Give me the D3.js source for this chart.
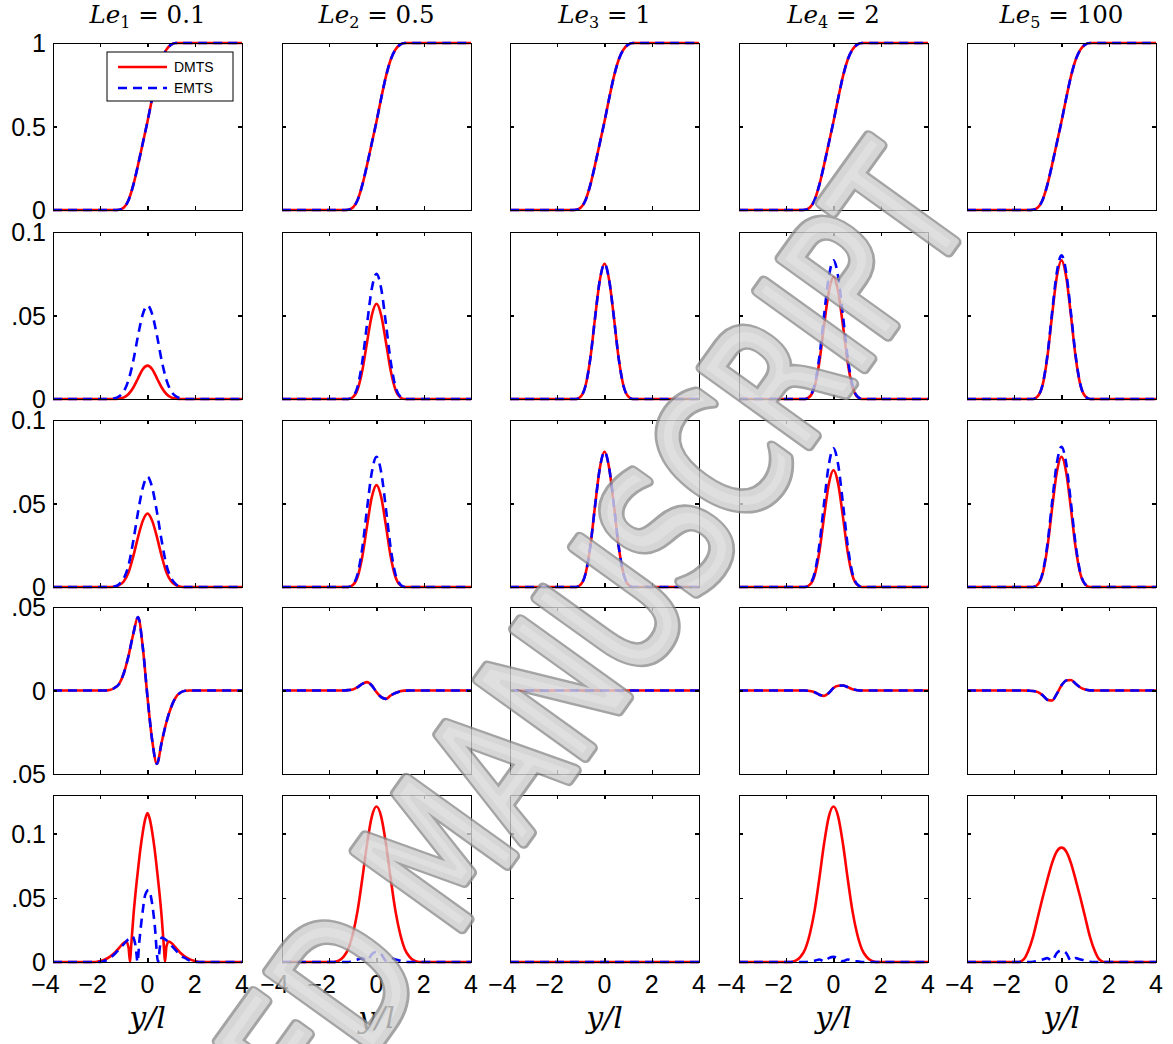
<!DOCTYPE html>
<html lang="en">
<head>
<meta charset="utf-8">
<title>DMTS vs EMTS profiles</title>
<script src="https://d3js.org/d3.v7.min.js"></script>
<style>
  body { margin: 0; background: #fff; }
  svg { display: block; }
  .tlab { font-family: "Liberation Sans", Arial, sans-serif; font-size: 25px; fill: #000; }
  .ttl { font-family: "DejaVu Serif", serif; font-size: 24.5px; fill: #000; }
  .xlab { font-family: "DejaVu Serif", serif; font-style: italic; font-size: 30px; fill: #000; }
  .leg { font-family: "Liberation Sans", Arial, sans-serif; font-size: 14px; fill: #000; }
  .axis path, .axis line { stroke: #000; stroke-width: 1.1; shape-rendering: crispEdges; }
  .dmts { fill: none; stroke: #ff0000; stroke-width: 2.6; }
  .emts { fill: none; stroke: #0000ff; stroke-width: 2.6; stroke-dasharray: 9,6; }
  .wm { font-family: "DejaVu Sans", sans-serif; font-size: 180px; stroke-linejoin: round; stroke-linecap: round; }
</style>
</head>
<body>
<div id="chart"></div>
<script>
// sample positions y/l
var yl = [-4, -3, -2, -1.8, -1.6, -1.4, -1.2, -1, -0.8, -0.6, -0.4, -0.2, 0, 0.2, 0.4, 0.6, 0.8, 1, 1.2, 1.4, 1.6, 1.8, 2, 3, 4];

var titles = [["1", "0.1"], ["2", "0.5"], ["3", "1"], ["4", "2"], ["5", "100"]];
var xTicks = [-4, -2, 0, 2, 4];
var xTickLabels = ["\u22124", "\u22122", "0", "2", "4"];

var rowDomains = [[0, 1], [0, 0.1], [0, 0.1], [-0.05, 0.05], [0, 0.13]];
var rowTicks = [[0, 0.5, 1], [0, 0.05, 0.1], [0, 0.05, 0.1], [-0.05, 0, 0.05], [0, 0.05, 0.1]];
var rowTickLabels = [["0", "0.5", "1"], ["0", "0.05", "0.1"], ["0", "0.05", "0.1"], ["\u22120.05", "0", "0.05"], ["0", "0.05", "0.1"]];

var flat = [0,0,0,0,0,0,0,0,0,0,0,0,0,0,0,0,0,0,0,0,0,0,0,0,0];

// row 1 (same in every column)
var r1 = [0,0,0,0,0,0,0.002,0.015,0.06,0.15,0.27,0.4,0.53,0.67,0.8,0.9,0.96,0.99,1,1,1,1,1,1,1];

// row 2
var r2c1D = [0,0,0,0,0,0,0.0003,0.001,0.003,0.0069,0.0124,0.0178,0.02,0.0178,0.0124,0.0069,0.003,0.001,0.0003,0,0,0,0,0,0];
var r2c1E = [0,0,0,0,0,0.0004,0.0016,0.0047,0.0115,0.023,0.038,0.0507,0.056,0.0507,0.038,0.023,0.0115,0.0047,0.0016,0.0004,0,0,0,0,0];
var r2c2D = [0,0,0,0,0,0,0,0.0011,0.0057,0.017,0.034,0.05,0.057,0.05,0.034,0.017,0.0057,0.0011,0,0,0,0,0,0,0];
var r2c2E = [0,0,0,0,0,0,0,0.0015,0.0075,0.0225,0.045,0.066,0.075,0.066,0.045,0.0225,0.0075,0.0015,0,0,0,0,0,0,0];
var r2c3 = [0,0,0,0,0,0,0,0.0016,0.0081,0.0243,0.0486,0.071,0.081,0.071,0.0486,0.0243,0.0081,0.0016,0,0,0,0,0,0,0];
var r2c4D = [0,0,0,0,0,0,0,0.0015,0.0073,0.022,0.044,0.064,0.073,0.064,0.044,0.022,0.0073,0.0015,0,0,0,0,0,0,0];
var r2c4E = [0,0,0,0,0,0,0,0.0017,0.0083,0.025,0.05,0.073,0.083,0.073,0.05,0.025,0.0083,0.0017,0,0,0,0,0,0,0];
var r2c5D = [0,0,0,0,0,0,0,0.0017,0.0083,0.025,0.05,0.073,0.083,0.073,0.05,0.025,0.0083,0.0017,0,0,0,0,0,0,0];
var r2c5E = [0,0,0,0,0,0,0,0.0017,0.0086,0.0258,0.0516,0.0757,0.086,0.0757,0.0516,0.0258,0.0086,0.0017,0,0,0,0,0,0,0];

// row 3
var r3c1D = [0,0,0,0,0,0.0002,0.0011,0.0035,0.0088,0.0185,0.0299,0.0396,0.044,0.0396,0.0299,0.0185,0.0088,0.0035,0.0011,0.0002,0,0,0,0,0];
var r3c1E = [0,0,0,0,0,0.0003,0.0017,0.0053,0.0132,0.0277,0.0449,0.0594,0.066,0.0594,0.0449,0.0277,0.0132,0.0053,0.0017,0.0003,0,0,0,0,0];
var r3c2D = [0,0,0,0,0,0,0,0.0012,0.0061,0.0183,0.0366,0.0537,0.061,0.0537,0.0366,0.0183,0.0061,0.0012,0,0,0,0,0,0,0];
var r3c2E = [0,0,0,0,0,0,0,0.0016,0.0078,0.0234,0.0468,0.0686,0.078,0.0686,0.0468,0.0234,0.0078,0.0016,0,0,0,0,0,0,0];
var r3c3 = [0,0,0,0,0,0,0,0.0016,0.0081,0.0243,0.0486,0.071,0.081,0.071,0.0486,0.0243,0.0081,0.0016,0,0,0,0,0,0,0];
var r3c4D = [0,0,0,0,0,0,0,0.0014,0.007,0.021,0.042,0.0616,0.07,0.0616,0.042,0.021,0.007,0.0014,0,0,0,0,0,0,0];
var r3c4E = [0,0,0,0,0,0,0,0.0017,0.0083,0.025,0.05,0.073,0.083,0.073,0.05,0.025,0.0083,0.0017,0,0,0,0,0,0,0];
var r3c5D = [0,0,0,0,0,0,0,0.0016,0.0078,0.0234,0.0468,0.0686,0.078,0.0686,0.0468,0.0234,0.0078,0.0016,0,0,0,0,0,0,0];
var r3c5E = [0,0,0,0,0,0,0,0.0017,0.0084,0.0252,0.0504,0.0739,0.084,0.0739,0.0504,0.0252,0.0084,0.0017,0,0,0,0,0,0,0];

// row 4 (DMTS and EMTS coincide)
var r4c1 = [0,0,0,0,0.0003,0.0015,0.004,0.0105,0.021,0.034,0.044,0.026,-0.004,-0.03,-0.044,-0.031,-0.019,-0.01,-0.004,-0.0012,-0.0002,0,0,0,0];
var r4c2 = [0,0,0,0,0,0,0.0002,0.0006,0.002,0.004,0.005,0.003,-0.001,-0.004,-0.005,-0.003,-0.0015,-0.0005,-0.0001,0,0,0,0,0,0];
var r4c4 = [0,0,0,0,0,0,0,-0.0003,-0.001,-0.0025,-0.0032,-0.0015,0.0015,0.0028,0.003,0.002,0.0008,0.0002,0,0,0,0,0,0,0];
var r4c5 = [0,0,0,0,0,-0.0001,-0.0003,-0.001,-0.0028,-0.0055,-0.006,-0.002,0.003,0.006,0.0063,0.004,0.0018,0.0006,0.0001,0,0,0,0,0,0];

// row 5, column 1 has its own sample positions
var r5c1Dx = [-4,-2.2,-2,-1.8,-1.6,-1.4,-1.2,-1,-0.9,-0.8,-0.74,-0.7,-0.6,-0.5,-0.4,-0.3,-0.2,-0.1,0,0.1,0.2,0.3,0.4,0.5,0.6,0.7,0.74,0.8,0.9,1,1.2,1.4,1.6,1.8,2,2.2,4];
var r5c1D = [0,0,0.0008,0.002,0.004,0.007,0.011,0.015,0.016,0.011,0,0.01,0.035,0.055,0.072,0.088,0.101,0.111,0.116,0.111,0.101,0.088,0.072,0.055,0.035,0.01,0,0.012,0.016,0.015,0.011,0.007,0.004,0.002,0.0008,0,0];
var r5c1Ex = [-4,-2,-1.8,-1.6,-1.4,-1.2,-1,-0.8,-0.65,-0.5,-0.42,-0.35,-0.2,-0.1,0.05,0.2,0.3,0.45,0.52,0.6,0.8,1,1.2,1.4,1.6,1.8,2,4];
var r5c1E = [0,0,0.001,0.003,0.006,0.01,0.014,0.018,0.02,0.012,0,0.015,0.04,0.052,0.056,0.045,0.03,0,0.011,0.019,0.017,0.013,0.009,0.005,0.003,0.001,0,0];
var r5c2D = [0,0,0,0,0.001,0.004,0.01,0.022,0.04,0.065,0.092,0.113,0.121,0.113,0.092,0.065,0.04,0.022,0.01,0.004,0.001,0,0,0,0];
var r5c2E = [0,0,0,0,0,0,0,0.001,0.002,0.003,0.001,0.006,0.008,0.006,0.001,0.003,0.002,0.001,0,0,0,0,0,0,0];
var r5c4D = [0,0,0,0,0.001,0.004,0.01,0.022,0.04,0.065,0.092,0.113,0.121,0.113,0.092,0.065,0.04,0.022,0.01,0.004,0.001,0,0,0,0];
var r5c4E = [0,0,0,0,0,0,0,0.0005,0.001,0.002,0.0005,0.003,0.004,0.003,0.0005,0.002,0.001,0.0005,0,0,0,0,0,0,0];
var r5c5D = [0,0,0,0,0.002,0.009,0.02,0.035,0.05,0.064,0.077,0.086,0.089,0.086,0.077,0.064,0.05,0.035,0.02,0.009,0.002,0,0,0,0];
var r5c5E = [0,0,0,0,0,0,0.0002,0.001,0.002,0.003,0.001,0.007,0.009,0.007,0.001,0.003,0.002,0.001,0.0002,0,0,0,0,0,0];

function s(xs, vs) { return xs.map(function (x, i) { return [x, vs[i]]; }); }

var panels = [
  [[s(yl, r1), s(yl, r1)], [s(yl, r1), s(yl, r1)], [s(yl, r1), s(yl, r1)], [s(yl, r1), s(yl, r1)], [s(yl, r1), s(yl, r1)]],
  [[s(yl, r2c1D), s(yl, r2c1E)], [s(yl, r2c2D), s(yl, r2c2E)], [s(yl, r2c3), s(yl, r2c3)], [s(yl, r2c4D), s(yl, r2c4E)], [s(yl, r2c5D), s(yl, r2c5E)]],
  [[s(yl, r3c1D), s(yl, r3c1E)], [s(yl, r3c2D), s(yl, r3c2E)], [s(yl, r3c3), s(yl, r3c3)], [s(yl, r3c4D), s(yl, r3c4E)], [s(yl, r3c5D), s(yl, r3c5E)]],
  [[s(yl, r4c1), s(yl, r4c1)], [s(yl, r4c2), s(yl, r4c2)], [s(yl, flat), s(yl, flat)], [s(yl, r4c4), s(yl, r4c4)], [s(yl, r4c5), s(yl, r4c5)]],
  [[s(r5c1Dx, r5c1D), s(r5c1Ex, r5c1E)], [s(yl, r5c2D), s(yl, r5c2E)], [s(yl, flat), s(yl, flat)], [s(yl, r5c4D), s(yl, r5c4E)], [s(yl, r5c5D), s(yl, r5c5E)]]
];

var W = 1173, H = 1044;
var pw = 189, ph = 167;
var colX = [53, 282, 510, 739, 967];
var rowY = [43, 232, 420, 607, 795];

var svg = d3.select("#chart").append("svg").attr("width", W).attr("height", H);
var defs = svg.append("defs");
defs.append("clipPath").attr("id", "plotClip")
  .append("rect").attr("x", 0).attr("y", -2).attr("width", pw).attr("height", ph + 4);
defs.append("clipPath").attr("id", "labClip")
  .append("rect").attr("x", 11).attr("y", 0).attr("width", W).attr("height", H);

var x = d3.scaleLinear().domain([-4, 4]).range([0, pw]);

// column titles
titles.forEach(function (t, c) {
  var tx = svg.append("text").attr("class", "ttl")
    .attr("x", colX[c] + pw / 2).attr("y", 23).attr("text-anchor", "middle");
  tx.append("tspan").style("font-style", "italic").text("Le");
  tx.append("tspan").attr("font-size", 16).attr("dy", 5).text(t[0]);
  tx.append("tspan").attr("dy", -5).text(" = " + t[1]);
});

var labG = svg.append("g").attr("clip-path", "url(#labClip)");

panels.forEach(function (row, r) {
  var y = d3.scaleLinear().domain(rowDomains[r]).range([ph, 0]);
  var line = d3.line()
    .x(function (d) { return x(d[0]); })
    .y(function (d) { return y(d[1]); })
    .curve(d3.curveMonotoneX);

  row.forEach(function (pair, c) {
    var g = svg.append("g").attr("transform", "translate(" + colX[c] + "," + rowY[r] + ")");
    g.append("rect").attr("width", pw).attr("height", ph).attr("fill", "#fff");

    var plot = g.append("g").attr("clip-path", "url(#plotClip)");
    plot.append("path").attr("class", "dmts").attr("d", line(pair[0]));
    plot.append("path").attr("class", "emts").attr("d", line(pair[1]));

    g.append("g").attr("class", "axis").attr("transform", "translate(0," + ph + ")")
      .call(d3.axisBottom(x).tickValues(xTicks).tickSizeInner(-4).tickSizeOuter(0).tickFormat(""));
    g.append("g").attr("class", "axis")
      .call(d3.axisTop(x).tickValues(xTicks).tickSizeInner(-4).tickSizeOuter(0).tickFormat(""));
    g.append("g").attr("class", "axis")
      .call(d3.axisLeft(y).tickValues(rowTicks[r]).tickSizeInner(-4).tickSizeOuter(0).tickFormat(""));
    g.append("g").attr("class", "axis").attr("transform", "translate(" + pw + ",0)")
      .call(d3.axisRight(y).tickValues(rowTicks[r]).tickSizeInner(-4).tickSizeOuter(0).tickFormat(""));
    g.selectAll(".axis text").remove();

    if (r === 4) {
      xTicks.forEach(function (v, i) {
        g.append("text").attr("class", "tlab")
          .attr("x", x(v)).attr("dx", v < 0 ? -7.5 : 0)
          .attr("y", ph + 31).attr("text-anchor", "middle")
          .text(xTickLabels[i]);
      });
      g.append("text").attr("class", "xlab")
        .attr("x", pw / 2).attr("y", 1028 - rowY[r]).attr("text-anchor", "middle")
        .text("y/l");
    }
  });

  rowTicks[r].forEach(function (v, i) {
    labG.append("text").attr("class", "tlab")
      .attr("x", 46).attr("y", rowY[r] + y(v)).attr("dy", "0.36em")
      .attr("text-anchor", "end").text(rowTickLabels[r][i]);
  });
});

// legend in the first panel
var leg = svg.append("g").attr("transform", "translate(107,52)");
leg.append("rect").attr("width", 126).attr("height", 49)
  .attr("fill", "#fff").attr("stroke", "#000").attr("stroke-width", 1);
leg.append("line").attr("class", "dmts").attr("x1", 11).attr("x2", 60).attr("y1", 15).attr("y2", 15);
leg.append("line").attr("class", "emts").attr("x1", 11).attr("x2", 60).attr("y1", 36).attr("y2", 36);
leg.append("text").attr("class", "leg").attr("x", 67).attr("y", 20).text("DMTS");
leg.append("text").attr("class", "leg").attr("x", 67).attr("y", 41).text("EMTS");

// journal watermark: dark outer stroke, lighter core to give a tube look
var wm = svg.append("g").attr("opacity", 0.8)
  .attr("transform", "translate(925,176) rotate(-54.3)");
[["#8e8e8e", 13, "none"], ["#cdcdcd", 7, "#d8d8d8"]].forEach(function (st) {
  wm.append("text").attr("class", "wm")
    .attr("text-anchor", "end")
    .attr("dominant-baseline", "central")
    .attr("textLength", 1663)
    .attr("lengthAdjust", "spacingAndGlyphs")
    .attr("stroke", st[0]).attr("stroke-width", st[1]).attr("fill", st[2])
    .text("ACCEPTED MANUSCRIPT");
});
</script>
</body>
</html>
